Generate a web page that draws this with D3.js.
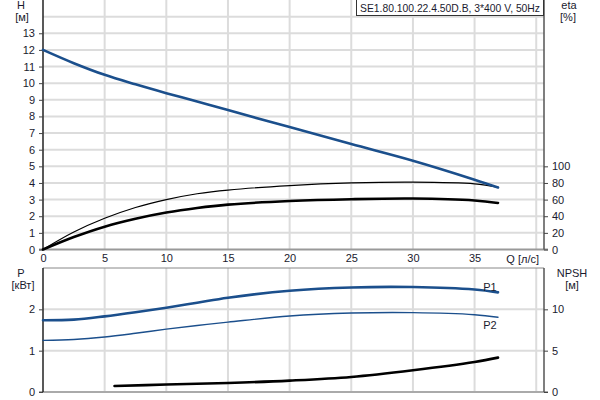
<!DOCTYPE html>
<html>
<head>
<meta charset="utf-8">
<script src="https://cdn.jsdelivr.net/npm/d3@7"></script>
<style>
body { margin: 0; background: #fff; }
svg { font-family: Arial, "Liberation Sans", sans-serif; }
.axis text { font-size: 11px; fill: #1a1a2e; }
.axis .domain { display: none; }
.axis line { stroke: #444; }
.lbl { font-size: 11px; fill: #1a1a2e; }
</style>
</head>
<body>
<script>
// flow points, l/s
var q = [0, 2.5, 5, 7.5, 10, 12.5, 15, 20, 25, 30, 35, 36.9]
// head H [m]
var head = [12.0, 11.2, 10.5, 9.93, 9.4, 8.9, 8.38, 7.36, 6.34, 5.34, 4.2, 3.73]
// efficiencies [%]
var etaThin = [0, 21, 37.5, 50.5, 60, 67, 71.5, 76.8, 80, 81, 79, 75]
var etaThick = [0, 15, 27.5, 37, 44.5, 50, 54, 58.3, 60.5, 61.3, 59, 56]
// power [kW]
var p1 = [1.735, 1.75, 1.83, 1.93, 2.04, 2.16, 2.28, 2.45, 2.53, 2.54, 2.48, 2.41]
var p2 = [1.25, 1.27, 1.33, 1.42, 1.52, 1.61, 1.69, 1.84, 1.91, 1.92, 1.87, 1.81]
// NPSH [m]
var qNpsh = [5.8, 10, 15, 20, 25, 30, 35, 36.9]
var npsh = [0.73, 0.9, 1.09, 1.38, 1.82, 2.63, 3.63, 4.16]

var qTicks = [0, 5, 10, 15, 20, 25, 30, 35]
var hTicks = d3.range(0, 14)
var etaTicks = [0, 20, 40, 60, 80, 100]
var pTicks = [0, 1, 2]
var npshTicks = [0, 5, 10]
var title = 'SE1.80.100.22.4.50D.B, 3*400 V, 50Hz'

var L = 43, R = 544
var topY0 = 249.5, topY1 = 0
var botY0 = 392, botY1 = 268

var svg = d3.select('body').append('svg')
    .attr('width', 600)
    .attr('height', 400)

// scales
var x = d3.scaleLinear().domain([0, 40.63]).range([L, R])
var yH = d3.scaleLinear().domain([0, 15]).range([topY0, topY1])
var yEta = d3.scaleLinear().domain([0, 300]).range([topY0, topY1])
var yP = d3.scaleLinear().domain([0, 3]).range([botY0, botY1])
var yN = d3.scaleLinear().domain([0, 15]).range([botY0, botY1])

var grid = '#dcdcdc'

// grid lines, top chart
svg.append('g').selectAll('line').data(d3.range(5, 45, 5)).join('line')
    .attr('x1', d => x(d)).attr('x2', d => x(d))
    .attr('y1', topY1).attr('y2', topY0)
    .attr('stroke', grid).attr('stroke-width', 2)
svg.append('g').selectAll('line').data(d3.range(1, 15)).join('line')
    .attr('x1', L).attr('x2', R)
    .attr('y1', d => yH(d)).attr('y2', d => yH(d))
    .attr('stroke', grid).attr('stroke-width', 2)

// grid lines, bottom chart
svg.append('g').selectAll('line').data(d3.range(5, 45, 5)).join('line')
    .attr('x1', d => x(d)).attr('x2', d => x(d))
    .attr('y1', botY1).attr('y2', botY0)
    .attr('stroke', grid).attr('stroke-width', 2)
svg.append('g').selectAll('line').data([1, 2]).join('line')
    .attr('x1', L).attr('x2', R)
    .attr('y1', d => yP(d)).attr('y2', d => yP(d))
    .attr('stroke', grid).attr('stroke-width', 2)

// frame lines
svg.append('line').attr('x1', 39).attr('x2', 548).attr('y1', topY0).attr('y2', topY0)
    .attr('stroke', '#999').attr('stroke-width', 2)
svg.append('line').attr('x1', 39).attr('x2', 548).attr('y1', botY0).attr('y2', botY0)
    .attr('stroke', '#aaa').attr('stroke-width', 2)
svg.append('line').attr('x1', L).attr('x2', R).attr('y1', botY1).attr('y2', botY1)
    .attr('stroke', '#888').attr('stroke-width', 1)
svg.append('line').attr('x1', L).attr('x2', L).attr('y1', topY1).attr('y2', topY0)
    .attr('stroke', '#222').attr('stroke-width', 1.5)
svg.append('line').attr('x1', L).attr('x2', L).attr('y1', botY1).attr('y2', botY0)
    .attr('stroke', '#222').attr('stroke-width', 1.5)
svg.append('line').attr('x1', R).attr('x2', R).attr('y1', topY1).attr('y2', topY0)
    .attr('stroke', '#555').attr('stroke-width', 1.5)
svg.append('line').attr('x1', R).attr('x2', R).attr('y1', botY1).attr('y2', botY0)
    .attr('stroke', '#555').attr('stroke-width', 1.5)

// axes
svg.append('g').attr('class', 'axis')
    .attr('transform', `translate(${L},0)`)
    .call(d3.axisLeft(yH).tickValues(hTicks).tickSize(4).tickPadding(4))
svg.append('g').attr('class', 'axis')
    .attr('transform', `translate(${R},0)`)
    .call(d3.axisRight(yEta).tickValues(etaTicks).tickSize(4).tickPadding(4))
svg.append('g').attr('class', 'axis')
    .attr('transform', `translate(${L},0)`)
    .call(d3.axisLeft(yP).tickValues(pTicks).tickFormat(d3.format('d')).tickSize(4).tickPadding(4))
svg.append('g').attr('class', 'axis')
    .attr('transform', `translate(${R},0)`)
    .call(d3.axisRight(yN).tickValues(npshTicks).tickSize(4).tickPadding(4))
svg.append('g').attr('class', 'axis')
    .attr('transform', `translate(0,${topY0})`)
    .call(d3.axisBottom(x).tickValues(qTicks).tickSize(0).tickPadding(5))

// axis titles
function label(t, px, py, anchor) {
    return svg.append('text').attr('class', 'lbl')
        .attr('x', px).attr('y', py)
        .attr('text-anchor', anchor || 'middle')
        .text(t)
}
label('H', 21, 9)
label('[м]', 22, 21)
label('eta', 569, 9)
label('[%]', 568, 21)
label('P', 21, 277)
label('[кВт]', 23, 289)
label('NPSH', 572, 277)
label('[м]', 572, 289)
label('Q [л/с]', 539, 263, 'end')

// curves
function curve(xs, ys, ys_scale, color, w) {
    var pts = xs.map((d, i) => [x(d), ys_scale(ys[i])])
    svg.append('path')
        .attr('d', d3.line().curve(d3.curveCatmullRom.alpha(0.5))(pts))
        .attr('fill', 'none')
        .attr('stroke', color)
        .attr('stroke-width', w)
        .attr('stroke-linecap', 'round')
}
var blue = '#1b4f8c'
curve(q, etaThin, yEta, '#000', 1.2)
curve(q, etaThick, yEta, '#000', 2.6)
curve(q, head, yH, blue, 2.6)
curve(q, p1, yP, blue, 2.6)
curve(q, p2, yP, blue, 1.4)
curve(qNpsh, npsh, yN, '#000', 2.6)

label('P1', 490, 291)
label('P2', 490, 329)

// title box
svg.append('rect')
    .attr('x', 356.5).attr('y', -1)
    .attr('width', 187).attr('height', 16.5)
    .attr('fill', '#fff').attr('stroke', '#333')
label(title, 360, 12, 'start')
    .attr('textLength', 180)
    .attr('lengthAdjust', 'spacingAndGlyphs')
</script>
</body>
</html>
